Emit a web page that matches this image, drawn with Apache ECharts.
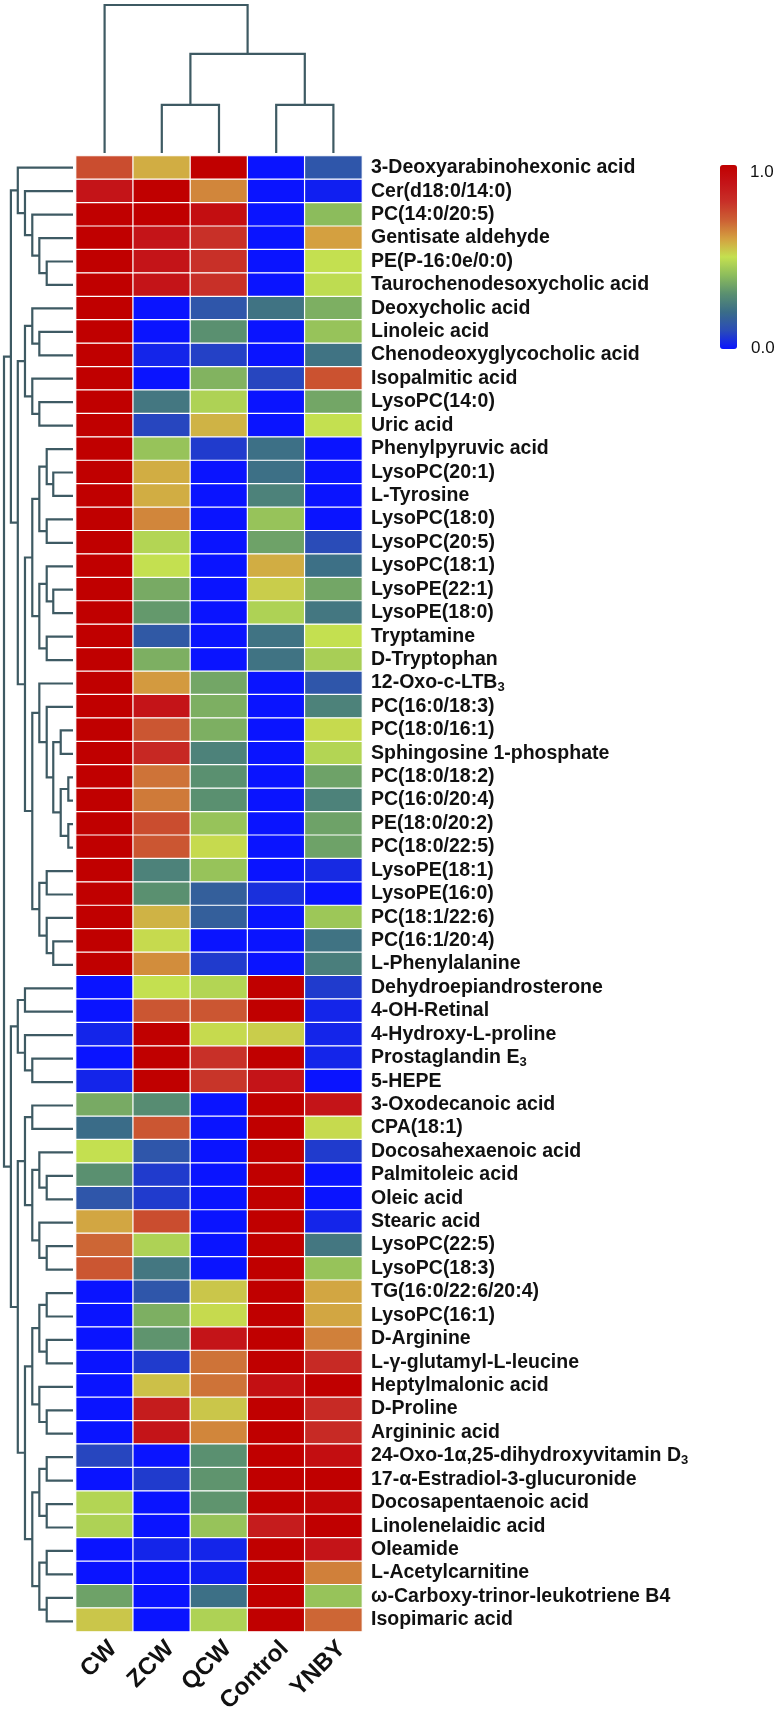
<!DOCTYPE html>
<html lang="en">
<head>
<meta charset="utf-8">
<title>Metabolite heatmap</title>
<script src="https://cdn.jsdelivr.net/npm/echarts@6/dist/echarts.min.js"></script>
<style>
  html, body { margin: 0; padding: 0; background: #fff; }
  #main { width: 782px; height: 1716px; }
</style>
</head>
<body>
<div id="main"></div>
<script type="text/javascript">
// groups (columns) and metabolites (rows, top to bottom)
var groups = ['CW', 'ZCW', 'QCW', 'Control', 'YNBY'];
var metabolites = [
  '3-Deoxyarabinohexonic acid', 'Cer(d18:0/14:0)', 'PC(14:0/20:5)', 'Gentisate aldehyde',
  'PE(P-16:0e/0:0)', 'Taurochenodesoxycholic acid', 'Deoxycholic acid', 'Linoleic acid',
  'Chenodeoxyglycocholic acid', 'Isopalmitic acid', 'LysoPC(14:0)', 'Uric acid',
  'Phenylpyruvic acid', 'LysoPC(20:1)', 'L-Tyrosine', 'LysoPC(18:0)', 'LysoPC(20:5)',
  'LysoPC(18:1)', 'LysoPE(22:1)', 'LysoPE(18:0)', 'Tryptamine', 'D-Tryptophan',
  '12-Oxo-c-LTB_3', 'PC(16:0/18:3)', 'PC(18:0/16:1)', 'Sphingosine 1-phosphate',
  'PC(18:0/18:2)', 'PC(16:0/20:4)', 'PE(18:0/20:2)', 'PC(18:0/22:5)', 'LysoPE(18:1)',
  'LysoPE(16:0)', 'PC(18:1/22:6)', 'PC(16:1/20:4)', 'L-Phenylalanine',
  'Dehydroepiandrosterone', '4-OH-Retinal', '4-Hydroxy-L-proline', 'Prostaglandin E_3',
  '5-HEPE', '3-Oxodecanoic acid', 'CPA(18:1)', 'Docosahexaenoic acid', 'Palmitoleic acid',
  'Oleic acid', 'Stearic acid', 'LysoPC(22:5)', 'LysoPC(18:3)', 'TG(16:0/22:6/20:4)',
  'LysoPC(16:1)', 'D-Arginine', 'L-γ-glutamyl-L-leucine', 'Heptylmalonic acid',
  'D-Proline', 'Argininic acid', '24-Oxo-1α,25-dihydroxyvitamin D_3',
  '17-α-Estradiol-3-glucuronide', 'Docosapentaenoic acid', 'Linolenelaidic acid',
  'Oleamide', 'L-Acetylcarnitine', 'ω-Carboxy-trinor-leukotriene B4', 'Isopimaric acid'
];

// scaled values per group, one per metabolite (same order)
var cw = [0.74, 0.9, 1, 1, 1, 1, 1, 1, 1, 1, 1, 1, 1, 1, 1, 1, 1, 1, 1, 1, 1, 1,
  1, 1, 1, 1, 1, 1, 1, 1, 1, 1, 1, 1, 1,
  0, 0, 0.03, 0, 0.03, 0.36, 0.2, 0.5, 0.3, 0.13, 0.59, 0.69, 0.72,
  0, 0, 0, 0, 0, 0, 0, 0.09, 0, 0.47, 0.46, 0, 0, 0.34, 0.54];
var zcw = [0.58, 1, 1, 0.9, 0.9, 0.9, 0, 0, 0.03, 0, 0.23, 0.09, 0.42, 0.58, 0.58, 0.64,
  0.47, 0.5, 0.36, 0.32, 0.14, 0.37, 0.61, 0.9, 0.72, 0.83, 0.67, 0.66, 0.74, 0.72,
  0.26, 0.3, 0.57, 0.51, 0.63,
  0.5, 0.72, 1, 1, 1, 0.29, 0.72, 0.13, 0.07, 0.07, 0.74, 0.46, 0.23,
  0.13, 0.37, 0.31, 0.07, 0.55, 0.87, 0.9, 0, 0.07, 0, 0, 0.03, 0, 0, 0];
var qcw = [1, 0.64, 0.93, 0.8, 0.8, 0.8, 0.13, 0.3, 0.08, 0.38, 0.46, 0.57, 0.07, 0, 0, 0,
  0, 0, 0, 0, 0, 0, 0.35, 0.37, 0.37, 0.26, 0.3, 0.3, 0.42, 0.51,
  0.42, 0.16, 0.16, 0, 0.07,
  0.47, 0.72, 0.51, 0.8, 0.79, 0, 0, 0, 0, 0, 0, 0, 0,
  0.54, 0.51, 0.9, 0.67, 0.67, 0.54, 0.64, 0.3, 0.31, 0.31, 0.42, 0.03, 0.02, 0.21, 0.46];
var control = [0, 0, 0, 0, 0, 0, 0.22, 0, 0, 0.09, 0, 0, 0.21, 0.21, 0.26, 0.42,
  0.34, 0.58, 0.53, 0.46, 0.22, 0.22, 0, 0, 0, 0, 0, 0, 0, 0,
  0, 0.05, 0, 0, 0,
  1, 1, 0.53, 1, 0.9, 1, 1, 1, 1, 1, 1, 1, 1,
  1, 1, 1, 1, 0.92, 1, 1, 1, 1, 1, 0.87, 1, 1, 1, 1];
var ynby = [0.13, 0.02, 0.4, 0.6, 0.5, 0.49, 0.37, 0.42, 0.22, 0.73, 0.35, 0.5, 0, 0, 0, 0,
  0.1, 0.21, 0.35, 0.23, 0.5, 0.45, 0.13, 0.26, 0.51, 0.47, 0.34, 0.26, 0.34, 0.34,
  0.04, 0, 0.43, 0.22, 0.25,
  0.07, 0.03, 0.03, 0.03, 0, 0.9, 0.51, 0.07, 0, 0, 0.03, 0.23, 0.42,
  0.59, 0.59, 0.65, 0.82, 1, 0.82, 0.82, 0.93, 1, 0.97, 1, 0.9, 0.65, 0.42, 0.69];

// row clustering: [child a, child b, height]; leaves 0..62, new nodes numbered from 63
var rowMerges = [
  [4, 5, 3.81], [3, 63, 4.88], [2, 64, 5.9], [1, 65, 6.96], [0, 66, 8],
  [7, 8, 4.88], [6, 68, 5.9], [10, 11, 4.88], [9, 70, 5.9], [69, 71, 6.96],
  [13, 14, 2.86], [12, 73, 3.81], [15, 16, 3.81], [74, 75, 4.88],
  [18, 19, 2.86], [17, 77, 3.81], [20, 21, 3.81], [78, 79, 4.88], [76, 80, 5.9],
  [26, 27, 0.68], [28, 29, 0.68], [82, 83, 1.78], [24, 25, 1.78], [85, 84, 2.86],
  [23, 86, 3.81], [22, 87, 4.88], [30, 31, 3.81], [33, 34, 2.86], [32, 90, 3.81],
  [89, 91, 4.88], [88, 92, 5.9], [81, 93, 6.96], [72, 94, 8], [67, 95, 9],
  [35, 36, 6.96], [38, 39, 5.9], [37, 98, 6.96], [97, 99, 8],
  [40, 41, 5.9], [43, 44, 3.81], [42, 102, 4.88], [46, 47, 3.81], [45, 104, 4.88],
  [103, 105, 5.9], [101, 106, 6.96],
  [48, 49, 3.81], [50, 51, 3.81], [108, 109, 4.88], [53, 54, 3.81], [52, 111, 4.88],
  [110, 112, 5.9], [55, 56, 3.81], [57, 58, 3.81], [114, 115, 4.88], [59, 60, 3.81],
  [61, 62, 3.81], [117, 118, 4.88], [116, 119, 5.9], [113, 120, 6.96],
  [107, 121, 8], [100, 122, 9], [96, 123, 10]
];
// column clustering, leaves 0..4
var colMerges = [[1, 2, 3.25], [3, 4, 3.25], [5, 6, 6.7], [0, 7, 10]];

var legendText = ['1.0', '0.0'];

var treeColor = '#3e5a63';
var fontFam = '"Liberation Sans", Arial, sans-serif';

// turn a merge list into U-shaped links: [posA, hA, posB, hB, h]
function buildLinks(merges, nLeaves) {
  var pos = [], hgt = [], links = [];
  for (var i = 0; i < nLeaves; i++) { pos.push(i); hgt.push(0); }
  merges.forEach(function (m) {
    var a = m[0], b = m[1];
    links.push([pos[a], hgt[a], pos[b], hgt[b], m[2]]);
    pos.push((pos[a] + pos[b]) / 2);
    hgt.push(m[2]);
  });
  return links;
}

var heatData = [];
[cw, zcw, qcw, control, ynby].forEach(function (col, c) {
  col.forEach(function (v, r) { heatData.push([c, r, v]); });
});

function rowLabel(name) {
  var m = name.match(/^(.*)_(\w+)$/);
  return m ? m[1] + '{s|' + m[2] + '}' : name;
}

var myChart = echarts.init(document.getElementById('main'));

var option = {
  backgroundColor: '#fff',
  animation: false,
  grid: [
    { left: 76, top: 156, width: 286, height: 1477 },
    { left: 4, top: 156, width: 69, height: 1477 },
    { left: 76, top: 5, width: 286, height: 148 }
  ],
  xAxis: [
    {
      type: 'category', gridIndex: 0, data: groups, position: 'bottom',
      axisLine: { show: false }, axisTick: { show: false }, splitLine: { show: false },
      axisLabel: {
        interval: 0, rotate: 45, margin: 5, verticalAlign: 'top', color: '#111',
        fontSize: 24, fontWeight: 'bold', fontFamily: fontFam
      }
    },
    { type: 'value', gridIndex: 1, min: 0, max: 10, inverse: true, show: false },
    { type: 'value', gridIndex: 2, min: -0.5, max: 4.5, show: false }
  ],
  yAxis: [
    {
      type: 'category', gridIndex: 0, data: metabolites, inverse: true, position: 'right',
      axisLine: { show: false }, axisTick: { show: false }, splitLine: { show: false },
      axisLabel: {
        interval: 0, margin: 9, color: '#111', fontSize: 19.5, fontWeight: 'bold',
        fontFamily: fontFam,
        formatter: rowLabel,
        rich: { s: { fontSize: 13, fontWeight: 'bold', fontFamily: fontFam, color: '#111', padding: [9, 0, 0, 0] } }
      }
    },
    { type: 'value', gridIndex: 1, min: -0.5, max: 62.5, inverse: true, show: false },
    { type: 'value', gridIndex: 2, min: 0, max: 10, show: false }
  ],
  visualMap: {
    type: 'continuous', seriesIndex: 0, min: 0, max: 1, calculable: false,
    orient: 'vertical', left: 720, top: 165, itemWidth: 17, itemHeight: 184,
    padding: 0, text: null, showLabel: false,
    inRange: {
      color: ['#0a14ff', '#2a4cb8', '#3a6c88', '#5a9070', '#8cbc5c', '#c4e050',
              '#d4a040', '#cc6034', '#c83028', '#c41418', '#c00000']
    }
  },
  graphic: [
    { type: 'text', left: 750, top: 164, style: { text: legendText[0], font: '17px ' + fontFam, fill: '#111' } },
    { type: 'text', left: 751, top: 340, style: { text: legendText[1], font: '17px ' + fontFam, fill: '#111' } }
  ],
  series: [
    {
      type: 'heatmap', xAxisIndex: 0, yAxisIndex: 0, data: heatData,
      itemStyle: { borderColor: '#fff', borderWidth: 1.2 },
      emphasis: { disabled: true }
    },
    {
      type: 'custom', xAxisIndex: 1, yAxisIndex: 1, silent: true, clip: false,
      data: buildLinks(rowMerges, metabolites.length),
      renderItem: function (params, api) {
        var pa = api.value(0), ha = api.value(1), pb = api.value(2), hb = api.value(3), h = api.value(4);
        return {
          type: 'polyline',
          shape: { points: [api.coord([ha, pa]), api.coord([h, pa]), api.coord([h, pb]), api.coord([hb, pb])] },
          style: { stroke: treeColor, lineWidth: 2.2, fill: null }
        };
      }
    },
    {
      type: 'custom', xAxisIndex: 2, yAxisIndex: 2, silent: true, clip: false,
      data: buildLinks(colMerges, groups.length),
      renderItem: function (params, api) {
        var pa = api.value(0), ha = api.value(1), pb = api.value(2), hb = api.value(3), h = api.value(4);
        return {
          type: 'polyline',
          shape: { points: [api.coord([pa, ha]), api.coord([pa, h]), api.coord([pb, h]), api.coord([pb, hb])] },
          style: { stroke: treeColor, lineWidth: 2.2, fill: null }
        };
      }
    }
  ]
};

myChart.setOption(option);
</script>
</body>
</html>
